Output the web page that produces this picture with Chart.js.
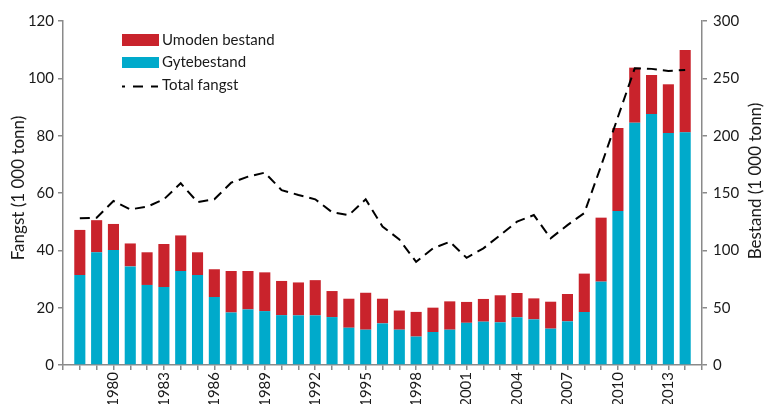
<!DOCTYPE html>
<html>
<head>
<meta charset="utf-8">
<script src="https://cdn.jsdelivr.net/npm/chart.js@4.4.1/dist/chart.umd.min.js"></script>
<style>
	html, body { margin: 0; padding: 0; background: #fff; }
</style>
</head>
<body>
<canvas id="myChart" width="766" height="404"></canvas>
<script>
// years on the axis (first and last are empty slots at the axis ends)
const years = ['1977', '1978', '1979', '1980', '1981', '1982', '1983', '1984', '1985', '1986',
	'1987', '1988', '1989', '1990', '1991', '1992', '1993', '1994', '1995', '1996',
	'1997', '1998', '1999', '2000', '2001', '2002', '2003', '2004', '2005', '2006',
	'2007', '2008', '2009', '2010', '2011', '2012', '2013', '2014', '2015'];
const tickYears = ['1980', '1983', '1986', '1989', '1992', '1995', '1998', '2001', '2004', '2007', '2010', '2013'];

// Bestand (1 000 tonn), right axis
const gytebestand = [null, 78.5, 98.3, 100.3, 86, 69.8, 68, 82, 78.5, 59.3,
	45.8, 48.5, 47, 43.5, 43.3, 43.3, 41.8, 32.5, 30.8, 36.3,
	30.8, 24.8, 28.8, 30.8, 36.8, 37.8, 37.2, 41.6, 39.8, 31.7,
	38.1, 46.2, 72.7, 134.3, 211.3, 218.9, 202.3, 202.9, null];
const umodenBestand = [null, 39.3, 28.0, 22.7, 20.0, 28.5, 37.5, 31.0, 19.8, 24.2,
	36.2, 33.5, 33.8, 29.8, 28.7, 30.7, 22.7, 25.3, 32.2, 21.5,
	16.7, 21.5, 21.2, 24.7, 18.2, 19.8, 23.6, 21.2, 18.3, 23.5,
	23.8, 33.5, 55.8, 72.4, 48.0, 34.0, 42.5, 71.8, null];

// Fangst (1 000 tonn), left axis
const totalFangst = [null, 51.2, 51.4, 57.2, 54.3, 55.2, 57.8, 63.4, 56.8, 57.8,
	63.6, 65.7, 67.1, 61.0, 59.3, 57.8, 53.3, 52.3, 57.8, 48.3,
	43.8, 36.0, 40.7, 43.0, 37.4, 40.7, 45.3, 50.0, 52.3, 44.2,
	48.8, 53.0, 69.5, 86.5, 103.5, 103.3, 102.6, 102.9, null];

const RED = '#C9232C';
const CYAN = '#00AACB';
const AXIS = '#8a8a8a';
const TXT = '#1a1a1a';

Chart.defaults.font.family = 'Lato, "Open Sans", sans-serif';
Chart.defaults.color = TXT;

const legendAndTitles = {
	id: 'legendAndTitles',
	afterDraw(chart) {
		const ctx = chart.ctx;
		ctx.save();
		// legend
		ctx.fillStyle = RED;
		ctx.fillRect(122, 34, 37, 12);
		ctx.fillStyle = CYAN;
		ctx.fillRect(122, 57, 37, 11);
		ctx.strokeStyle = '#000';
		ctx.lineWidth = 2;
		ctx.setLineDash([10, 8]);
		ctx.lineDashOffset = 7;
		ctx.beginPath();
		ctx.moveTo(122, 86.5);
		ctx.lineTo(158, 86.5);
		ctx.stroke();
		ctx.setLineDash([]);
		ctx.font = '15px Lato';
		ctx.fillStyle = TXT;
		ctx.textBaseline = 'middle';
		ctx.textAlign = 'left';
		ctx.fillText('Umoden bestand', 162, 40);
		ctx.fillText('Gytebestand', 162, 62);
		ctx.fillText('Total fangst', 162, 85);
		// axis titles
		ctx.font = '17px Lato';
		ctx.textAlign = 'center';
		ctx.translate(19, 188);
		ctx.rotate(-Math.PI / 2);
		ctx.fillText('Fangst (1 000 tonn)', 0, 0);
		ctx.setTransform(1, 0, 0, 1, 0, 0);
		ctx.translate(756, 181);
		ctx.rotate(-Math.PI / 2);
		ctx.fillText('Bestand (1 000 tonn)', 0, 0);
		ctx.restore();
	}
};

const fangstChart = {
	draw() {
		const ctx = document.getElementById('myChart');
		new Chart(ctx, {
			type: 'bar',
			data: {
				labels: years,
				datasets: [{
					type: 'line',
					label: 'Total fangst',
					data: totalFangst,
					yAxisID: 'y',
					borderColor: '#000',
					borderWidth: 2,
					borderDash: [10, 6],
					pointRadius: 0,
					tension: 0,
					fill: false,
					order: 0
				}, {
					label: 'Gytebestand',
					data: gytebestand,
					yAxisID: 'y1',
					backgroundColor: CYAN,
					stack: 'bestand',
					order: 1
				}, {
					label: 'Umoden bestand',
					data: umodenBestand,
					yAxisID: 'y1',
					backgroundColor: RED,
					stack: 'bestand',
					order: 1
				}]
			},
			options: {
				responsive: false,
				animation: false,
				layout: { padding: { top: 21, left: 0, right: 0, bottom: 0 } },
				datasets: {
					bar: { categoryPercentage: 0.66, barPercentage: 1 }
				},
				plugins: {
					legend: { display: false },
					tooltip: { enabled: false }
				},
				scales: {
					x: {
						type: 'category',
						offset: false,
						stacked: true,
						grid: { offset: false, drawOnChartArea: false, drawTicks: true, tickLength: 5, color: AXIS, lineWidth: 1.5 },
						border: { color: AXIS, width: 1.5 },
						ticks: {
							autoSkip: false,
							maxRotation: 90,
							minRotation: 90,
							padding: 2,
							font: { size: 15 },
							callback: function (value) {
								const l = this.getLabelForValue(value);
								return tickYears.includes(l) ? l : '';
							}
						},
						afterFit: (scale) => { scale.height = 39; }
					},
					y: {
						position: 'left',
						min: 0,
						max: 120,
						grid: { drawOnChartArea: false, tickLength: 5, color: AXIS, lineWidth: 1.5 },
						border: { color: AXIS, width: 1.5 },
						ticks: { stepSize: 20, padding: 4, font: { size: 15 } },
						afterFit: (scale) => { scale.width = 63; }
					},
					y1: {
						position: 'right',
						min: 0,
						max: 300,
						stacked: true,
						grid: { drawOnChartArea: false, tickLength: 5, color: AXIS, lineWidth: 1.5 },
						border: { color: AXIS, width: 1.5 },
						ticks: { stepSize: 50, padding: 6, font: { size: 15 } },
						afterFit: (scale) => { scale.width = 64; }
					}
				}
			},
			plugins: [legendAndTitles]
		});
	},
	main() {
		this.draw();
	}
}
fangstChart.main();
</script>
</body>
</html>
